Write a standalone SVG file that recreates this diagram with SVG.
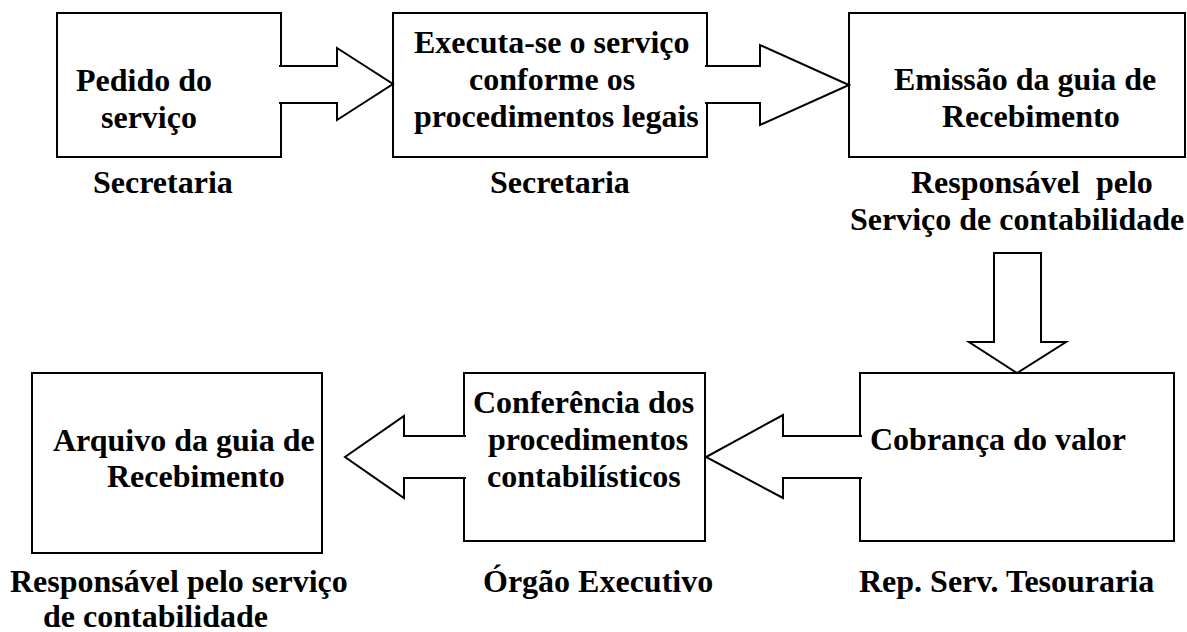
<svg xmlns="http://www.w3.org/2000/svg" width="1187" height="632" viewBox="0 0 1187 632">
<style>
.box{fill:#fff;stroke:#000;stroke-width:2}
.arr{fill:#fff;stroke:#000;stroke-width:2;stroke-linejoin:miter}
text{font-family:"Liberation Serif","Times New Roman",serif;font-weight:bold;font-size:32px;fill:#000}
</style>
<rect width="1187" height="632" fill="#fff"/>
<g id="node-pedido">
<rect class="box" x="57" y="13" width="224" height="144"/>
<text x="76" y="91">Pedido do</text>
<text x="101" y="128">serviço</text>
<text x="93" y="193">Secretaria</text>
</g>
<g id="node-executa">
<rect class="box" x="393" y="13" width="314" height="144"/>
<text x="414" y="53">Executa-se o serviço</text>
<text x="469" y="90">conforme os</text>
<text x="414" y="127">procedimentos legais</text>
<text x="490" y="193">Secretaria</text>
</g>
<g id="node-emissao">
<rect class="box" x="849" y="13" width="336" height="144"/>
<text x="894" y="90">Emissão da guia de</text>
<text x="942" y="127">Recebimento</text>
<text x="911" y="193" xml:space="preserve">Responsável  pelo</text>
<text x="850" y="230">Serviço de contabilidade</text>
</g>
<g id="node-cobranca">
<rect class="box" x="860" y="373" width="314" height="168"/>
<text x="870" y="450">Cobrança do valor</text>
<text x="859" y="592">Rep. Serv. Tesouraria</text>
</g>
<g id="node-conferencia">
<rect class="box" x="464" y="373" width="241" height="168"/>
<text x="473" y="413">Conferência dos</text>
<text x="488" y="450">procedimentos</text>
<text x="487" y="487">contabilísticos</text>
<text x="483" y="592">Órgão Executivo</text>
</g>
<g id="node-arquivo">
<rect class="box" x="32" y="373" width="290" height="180"/>
<text x="53" y="451">Arquivo da guia de</text>
<text x="107" y="487">Recebimento</text>
<text x="10" y="592">Responsável pelo serviço</text>
<text x="43" y="627">de contabilidade</text>
</g>
<g id="connectors">
<path class="arr" d="M279,66 H337 V48 L393,84 L337,120 V103 H279"/>
<path class="arr" d="M705,66 H760 V45 L849,85 L760,125 V103 H705"/>
<path class="arr" d="M994,253 H1041 V342 H1066 L1017,373 L969,342 H994 Z"/>
<path class="arr" d="M862,436 H783 V415 L706,457 L783,498 V478 H862"/>
<path class="arr" d="M466,436 H404 V416 L345,457 L404,498 V478 H466"/>
</g>
</svg>
